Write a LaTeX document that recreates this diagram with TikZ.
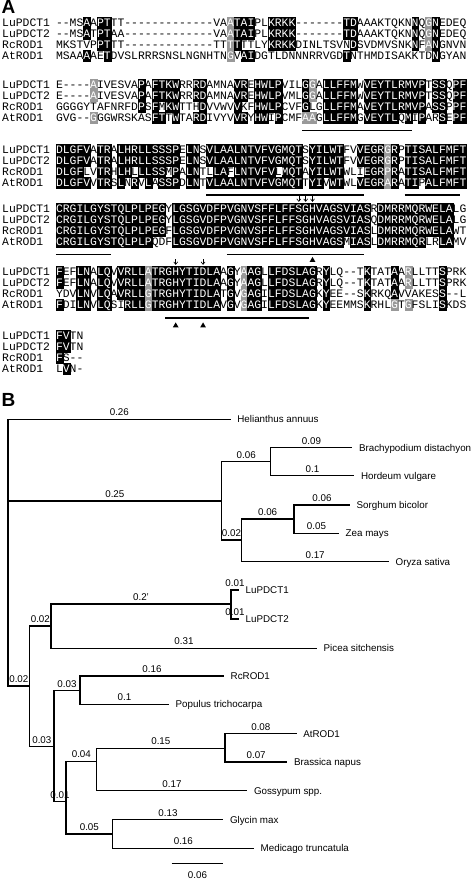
\documentclass[tikz,border=0pt]{standalone}
\usepackage{fontspec}
\setmainfont{Liberation Sans}
\newfontfamily\seqfont{Liberation Mono}
\usepackage{xstring}
\usetikzlibrary{shapes.geometric,arrows.meta}
\tikzset
{
    seqname/.style   = {anchor=west, inner sep=0pt, text height=6.5pt, text depth=0pt, font=\seqfont\fontsize{11.4}{12}\selectfont},
    residue/.style   = {inner sep=0pt, minimum width=6.84pt, minimum height=11pt, text height=6.5pt, text depth=0pt, font=\seqfont\fontsize{11.4}{12}\selectfont},
    identical/.style = {residue, fill=black, draw=black, line width=0.3pt, text=white},
    similar/.style   = {residue, fill=black!40, draw=black!40, line width=0.3pt, text=white},
    motif/.style     = {line width=1.6pt},
    site/.style      = {semithick, -{Straight Barb[length=2.5pt,width=4pt]}},
    marker/.style    = {regular polygon, regular polygon sides=3, fill=black, inner sep=0pt, minimum size=6.5pt},
    elbow/.style     = {line width=1.2pt, to path={|- (\tikztotarget) \tikztonodes}},
    blen/.style      = {pos=0.75, above=3pt, inner sep=0pt, font=\fontsize{9.8}{11}\selectfont},
    leaf/.style      = {anchor=west, inner xsep=6.5pt, inner ysep=0pt, text height=8.2pt, text depth=1pt, font=\fontsize{9.8}{11}\selectfont},
    panel/.style     = {anchor=base west, inner sep=0pt, font=\bfseries\fontsize{19}{21}\selectfont}
}

\newcount\nmatch
\newcommand\countmatch[1]{%
  \nmatch=0\relax
  \IfStrEq{#1}{\cha}{\advance\nmatch by 1\relax}{}%
  \IfStrEq{#1}{\chb}{\advance\nmatch by 1\relax}{}%
  \IfStrEq{#1}{\chc}{\advance\nmatch by 1\relax}{}%
  \IfStrEq{#1}{\chd}{\advance\nmatch by 1\relax}{}%
}
%% #1 block, #2 y of first row, #3 grey residues (row-column), #4-#7 rows
\newcommand\seqblock[7]{%
  \node[seqname] (b#1n1) at (2,{#2})          {LuPDCT1};
  \node[seqname] (b#1n2) at (2,{#2+\ROWH})    {LuPDCT2};
  \node[seqname] (b#1n3) at (2,{#2+2*\ROWH})  {RcROD1};
  \node[seqname] (b#1n4) at (2,{#2+3*\ROWH})  {AtROD1};
  \StrLen{#4}[\seqlen]%
  \foreach \col in {1,...,\seqlen} {%
    \StrChar{#4}{\col}[\cha]\StrChar{#5}{\col}[\chb]%
    \StrChar{#6}{\col}[\chc]\StrChar{#7}{\col}[\chd]%
    \foreach \rw/\chr in {1/\cha,2/\chb,3/\chc,4/\chd} {%
      \edef\resch{\chr}%
      \countmatch{\resch}%
      \tikzset{cell/.style={residue}}%
      \ifnum\nmatch>2 \IfStrEq{\resch}{-}{}{\tikzset{cell/.style={identical}}}\fi
      \IfSubStr{,#3,}{,\rw-\col,}{\tikzset{cell/.style={similar}}}{}%
      \node[cell] (b#1r\rw c\col) at ({\SEQX+(\col-0.5)*\COLW},{#2+(\rw-1)*\ROWH}) {\resch};
    }
  }
}

\begin{document}
\begin{tikzpicture}[x=1pt, y=-1pt]

   \newcommand\SEQX{56}
   \newcommand\COLW{6.84}
   \newcommand\ROWH{11}

   \fill[white] (0,0) rectangle (472,882);
   \useasboundingbox (0,0) rectangle (472,882);

   \node[panel] (pa) at (1.5,14)    {A};
   \node[panel] (pb) at (1.5,406.7) {B};

   \seqblock{1}{23}{1-26,2-26,3-26,4-26,1-55,2-55,3-55}
     {--MSAAPTTT-------------VAATAIPLKRKK-------TDAAAKTQKNNQGNEDEQ}
     {--MSATPTAA-------------VAATAIPLKRKK-------TDAAAKTQKNNQGNEDEQ}
     {MKSTVPPTTT-------------TTTTTTLYKRKKDINLTSVNDSVDMVSNKNFANGNVN}
     {MSAAAAETDVSLRRRSNSLNGNHTNGVAIDGTLDNNNRRVGDTNTHMDISAKKTDNGYAN}
   \seqblock{2}{85}{1-6,2-6,4-6,1-38,2-38,4-37,4-38}
     {E----AIVESVAPAFTKWRRRDAMNAVREHWLPVILGGALLFFMWVEYTLRMVPTSSQPF}
     {E----AIVESVAPAFTKWRRRDAMNAVREHWLPVMLGGALLFFMWVEYTLRMVPTSSQPF}
     {GGGGYTAFNRFDPSFMKWTTHDVVWVVKFHWLPCVFGLGLLFFMAVEYTLRMVPASSPPF}
     {GVG--GGGWRSKASFTTWTARDIVYVVRYHWIPCMFAAGLLFFMGVEYTLQMIPARSEPF}
   \seqblock{3}{150}{1-49,2-49,3-49,4-49}
     {DLGFVATRALHRLLSSSPELNSVLAALNTVFVGMQTSYILWTFVVEGRGRPTISALFMFT}
     {DLGFVATRALHRLLSSSPELNSVLAALNTVFVGMQTSYILWTFVVEGRGRPTISALFMFT}
     {DLGFLVTRHLHLLLSSMPALNTLLAFLNTVFVLMQTAYILWTWLIEGRPRATISALFMFT}
     {DLGFVVTRSLNRVLASSPDLNTVLAALNTVFVGMQTTYIVWTWLVEGRARATIPALFMFT}
   \seqblock{4}{209}{}
     {CRGILGYSTQLPLPEGYLGSGVDFPVGNVSFFLFFSGHVAGSVIASRDMRRMQRWELALG}
     {CRGILGYSTQLPLPEGYLGSGVDFPVGNVSFFLFFSGHVAGSVIASQDMRRMQRWELALG}
     {CRGILGYSTQLPLPEGFLGSGVDFPVGNVSFFLFFSGHVAGSVIASLDMRRMQRWELAWT}
     {CRGILGYSTQLPLPQDFLGSGVDFPVGNVSFFLFFSGHVAGSMIASLDMRRMQRLRLAMV}
   \seqblock{5}{272}{1-14,2-14,3-14,4-14,1-28,2-28,3-28,4-28,1-52,2-52,4-52,4-50}
     {FEFLNALQVVRLLATRGHYTIDLAAGYAAGLLFDSLAGRYLQ--TKTATAARLLTTSPRK}
     {FEFLNALQVVRLLATRGHYTIDLAAGYAAGLLFDSLAGRYLQ--TKTATAARLLTTSPRK}
     {YDVLNVLQAVRLLGTRGHYTIDLATGVGAGILFDSLAGKYEE--SKRKQAVVAKESS--L}
     {FDILNVLQSIRLLGTRGHYTIDLAVGVGAGILFDSLAGKYEEMMSKRHLGTGFSLISKDS}
   \seqblock{6}{336}{}
     {FVTN}
     {FVTN}
     {FS--}
     {LVN-}

   % motifs and sites
   \draw[motif] ([yshift=-7pt]b2r4c37.south west) -- ([yshift=-7pt]b2r4c52.south east);
   \draw[motif] ([yshift=-6.5pt]b3r4c23.south west) -- ([yshift=-6.5pt]b3r4c45.south east);
   \draw[motif] ([yshift=-6.5pt]b3r4c52.south west) -- ([yshift=-6.5pt]b3r4c59.south east);
   \draw[motif] ([yshift=-7pt]b4r4c1.south west) -- ([yshift=-7pt]b4r4c8.south east);
   \draw[motif] ([yshift=-7pt]b4r4c26.south west) -- ([yshift=-7pt]b4r4c45.south east);
   \draw[motif] ([yshift=-7.5pt]b5r4c17.south west) -- ([yshift=-7.5pt]b5r4c37.south east);

   \draw[site] ([yshift=7pt]b4r1c36.north) -- ([yshift=1.5pt]b4r1c36.north);
   \draw[site] ([yshift=7pt]b4r1c37.north) -- ([yshift=1.5pt]b4r1c37.north);
   \draw[site] ([yshift=7pt]b4r1c38.north) -- ([yshift=1.5pt]b4r1c38.north);
   \draw[site] ([yshift=7pt]b5r1c18.north) -- ([yshift=1.5pt]b5r1c18.north);
   \draw[site] ([yshift=7pt]b5r1c22.north) -- ([yshift=1.5pt]b5r1c22.north);

   \node[marker] (tri4)  at ([yshift=-12.5pt]b4r4c38.south) {};
   \node[marker] (tri5a) at ([yshift=-15pt]b5r4c18.south) {};
   \node[marker] (tri5b) at ([yshift=-15pt]b5r4c22.south) {};

   % tree
   \coordinate (root)   at (8,501);
   \node[leaf] (hel)    at (230.7,419.3) {Helianthus annuus};
   \coordinate (grass)  at (221.7,501);
   \coordinate (pooid)  at (270.7,461.7);
   \node[leaf] (bra)    at (352.3,447.7) {Brachypodium distachyon};
   \node[leaf] (hor)    at (354.3,475.7) {Hordeum vulgare};
   \coordinate (panoid) at (241.3,540);
   \coordinate (andro)  at (294,519);
   \node[leaf] (sor)    at (350,505)     {Sorghum bicolor};
   \node[leaf] (zea)    at (339,533.3)   {Zea mays};
   \node[leaf] (ory)    at (389,561.7)   {Oryza sativa};
   \coordinate (eudi)   at (29.7,686);
   \coordinate (flax)   at (51,626);
   \coordinate (lupdct) at (231,604);
   \node[leaf] (lu1)    at (239,590)     {LuPDCT1};
   \node[leaf] (lu2)    at (239,619)     {LuPDCT2};
   \node[leaf] (pic)    at (317,648.3)   {Picea sitchensis};
   \coordinate (rosid)  at (54,746.7);
   \coordinate (malpi)  at (80,690.7);
   \node[leaf] (rc)     at (224,676)     {RcROD1};
   \node[leaf] (pop)    at (169,704.3)   {Populus trichocarpa};
   \coordinate (core)   at (66,801.7);
   \coordinate (malv)   at (96.7,761.3);
   \coordinate (brass)  at (225,748.3);
   \node[leaf] (at)     at (296.7,733.7) {AtROD1};
   \node[leaf] (bna)    at (287.3,762)   {Brassica napus};
   \node[leaf] (gos)    at (247.3,790.7) {Gossypum spp.};
   \coordinate (fab)    at (112.7,834);
   \node[leaf] (gly)    at (223.3,819.7) {Glycin max};
   \node[leaf] (med)    at (254,848.3)   {Medicago truncatula};

   \path
      (root)   edge[elbow] node[blen] {0.26} (hel.west)
      (root)   edge[elbow] node[blen] {0.25} (grass)
      (root)   edge[elbow] node[blen] {0.02} (eudi)
      (grass)  edge[elbow] node[blen] {0.06} (pooid)
      (grass)  edge[elbow] node[blen] {0.02} (panoid)
      (pooid)  edge[elbow] node[blen] {0.09} (bra.west)
      (pooid)  edge[elbow] node[blen] {0.1}  (hor.west)
      (panoid) edge[elbow] node[blen] {0.06} (andro)
      (panoid) edge[elbow] node[blen] {0.17} (ory.west)
      (andro)  edge[elbow] node[blen] {0.06} (sor.west)
      (andro)  edge[elbow] node[blen] {0.05} (zea.west)
      (eudi)   edge[elbow] node[blen] {0.02} (flax)
      (eudi)   edge[elbow] node[blen] {0.03} (rosid)
      (flax)   edge[elbow] node[blen] {0.2’} (lupdct)
      (flax)   edge[elbow] node[blen] {0.31} (pic.west)
      (lupdct) edge[elbow] node[blen] {0.01} (lu1.west)
      (lupdct) edge[elbow] node[blen] {0.01} (lu2.west)
      (rosid)  edge[elbow] node[blen] {0.03} (malpi)
      (rosid)  edge[elbow] node[blen] {0.01} (core)
      (malpi)  edge[elbow] node[blen] {0.16} (rc.west)
      (malpi)  edge[elbow] node[blen] {0.1}  (pop.west)
      (core)   edge[elbow] node[blen] {0.04} (malv)
      (core)   edge[elbow] node[blen] {0.05} (fab)
      (malv)   edge[elbow] node[blen] {0.15} (brass)
      (malv)   edge[elbow] node[blen] {0.17} (gos.west)
      (brass)  edge[elbow] node[blen] {0.08} (at.west)
      (brass)  edge[elbow] node[blen] {0.07} (bna.west)
      (fab)    edge[elbow] node[blen] {0.13} (gly.west)
      (fab)    edge[elbow] node[blen] {0.16} (med.west);

   % scale bar
   \coordinate (sbl) at (171.7,863.3);
   \coordinate (sbr) at (223.3,863.3);
   \draw[line width=1.5pt] (sbl) -- node[below=8pt, inner sep=0pt, font=\fontsize{9.8}{11}\selectfont] (sbtext) {0.06} (sbr);

\end{tikzpicture}
\end{document}
